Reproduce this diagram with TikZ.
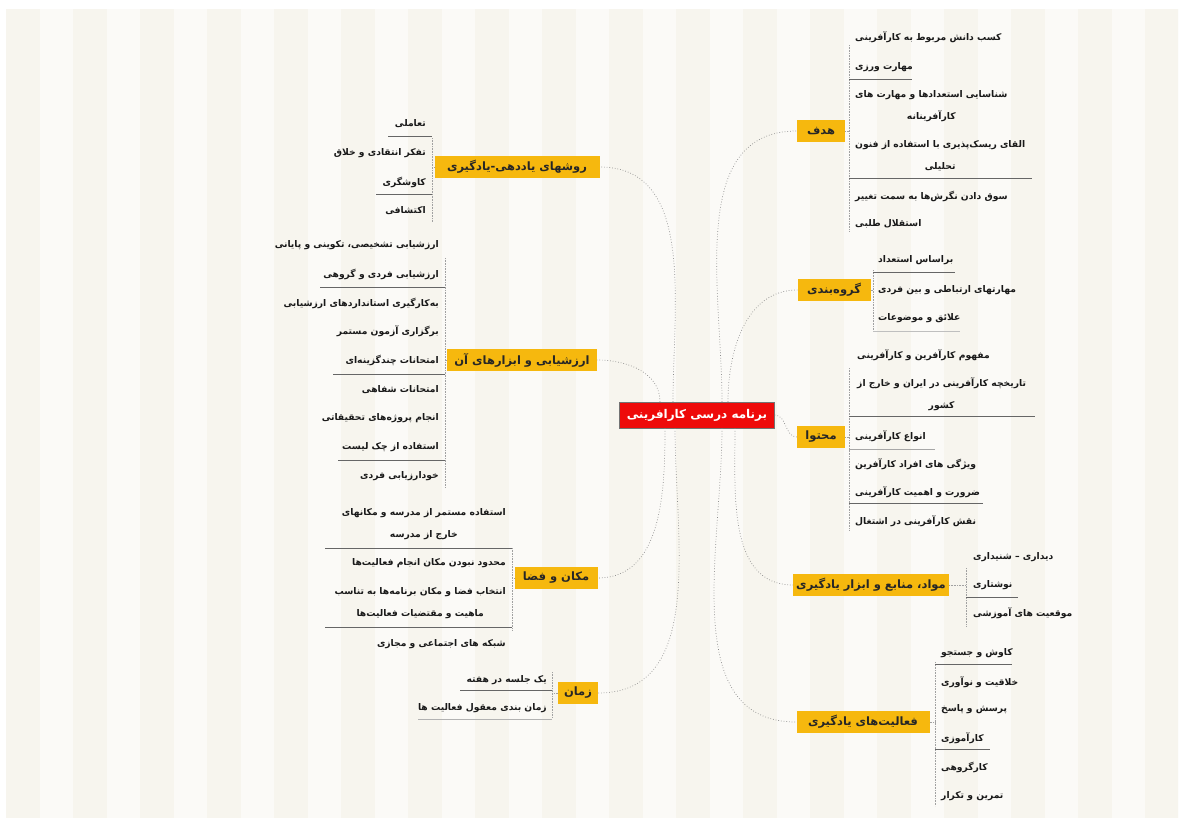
\documentclass[tikz,border=0pt]{standalone}
\usepackage{fontspec}
\TeXXeTstate=1
\newfontfamily\fa[Script=Arabic]{DejaVu Sans}
\definecolor{bgA}{HTML}{F7F5EE}
\definecolor{bgB}{HTML}{FBFAF7}
\definecolor{myyellow}{HTML}{F6B80E}
\definecolor{myred}{HTML}{EE0A0A}
\definecolor{conncol}{HTML}{8A8A8A}
\newcommand\rl[1]{\beginR#1\endR}
\tikzset{
  mainnode/.style={fill=myyellow, text=black!85, font=\fa\bfseries\fontsize{11.5}{14}\selectfont,
    inner xsep=3pt, inner ysep=2pt, minimum height=22pt},
  rootnode/.style={fill=myred, draw=black!55, line width=0.5pt, text=white,
    font=\fa\bfseries\fontsize{12}{14}\selectfont, minimum width=155pt, minimum height=26pt},
  leafR/.style={anchor=west, align=center, inner sep=1pt, text=black!90,
    font=\fa\bfseries\fontsize{9.2}{22}\selectfont},
  leafL/.style={anchor=east, align=center, inner sep=1pt, text=black!90,
    font=\fa\bfseries\fontsize{9.2}{22}\selectfont},
  conn/.style={draw=conncol, dotted, line width=0.7pt},
  brk/.style={draw=conncol!80, densely dotted, line width=0.6pt},
  uline/.style={draw=black!60, line width=0.6pt}
}
\begin{document}
\begin{tikzpicture}[x=1pt,y=-1pt]
\useasboundingbox (0,0) rectangle (1184,822);
\fill[white] (0,0) rectangle (1184,822);
\begin{scope}
\clip (6,9) rectangle (1178,818);
\foreach \i in {0,...,35}{
  \pgfmathsetmacro\xa{6+\i*33.5}
  \ifodd\i \fill[bgB] (\xa,9) rectangle ++(33.6,809);
  \else \fill[bgA] (\xa,9) rectangle ++(33.6,809);\fi
}
\end{scope}

% root
\node[rootnode] (c) at (697,415) {\rl{برنامه درسی کارافرینی}};

% main topics right
\node[mainnode, minimum width=48pt] (h) at (821,131) {\rl{هدف}};
\node[mainnode, minimum width=73pt] (g) at (834,290) {\rl{گروه^^^^200cبندی}};
\node[mainnode, minimum width=48pt] (m) at (821,437) {\rl{محتوا}};
\node[mainnode, minimum width=148pt] (s) at (871,585) {\rl{مواد، منابع و ابزار یادگیری}};
\node[mainnode, minimum width=133pt] (f) at (863,722) {\rl{فعالیت^^^^200cهای یادگیری}};
% main topics left
\node[mainnode, minimum width=165pt] (r) at (517,167) {\rl{روشهای یاددهی-یادگیری}};
\node[mainnode, minimum width=150pt] (e) at (522,360) {\rl{ارزشیابی و ابزارهای آن}};
\node[mainnode, minimum width=83pt] (p) at (556,578) {\rl{مکان و فضا}};
\node[mainnode, minimum width=40pt] (t) at (578,693) {\rl{زمان}};

% connectors root -> topics
\draw[conn] ([xshift=-24pt]c.north) to[out=90,in=0] (r.east);
\draw[conn] ([xshift=-37pt]c.north) to[out=90,in=0] (e.east);
\draw[conn] ([xshift=-32pt]c.south) to[out=-90,in=0] (p.east);
\draw[conn] ([xshift=-22pt]c.south) to[out=-90,in=0] (t.east);
\draw[conn] ([xshift=25pt]c.north) to[out=90,in=180] (h.west);
\draw[conn] ([xshift=31pt]c.north) to[out=90,in=180] (g.west);
\draw[conn] (c.east) to[out=0,in=180] (m.west);
\draw[conn] ([xshift=38pt]c.south) to[out=-90,in=180] (s.west);
\draw[conn] ([xshift=25pt]c.south) to[out=-90,in=180] (f.west);

% ---- هدف
\coordinate (hb) at (849,131);
\draw[brk] (h.east) -- (hb);
\draw[brk] (849,45) -- (849,232);
\node[leafR] (h1) at (854,37) {\rl{کسب دانش مربوط به کارآفرینی}};
\node[leafR] (h2) at (854,67) {\rl{مهارت ورزی}};
\node[leafR] (h3) at (854,106) {\rl{شناسایی استعدادها و مهارت های}\\\rl{کارآفرینانه}};
\node[leafR] (h4) at (854,156) {\rl{القای ریسک^^^^200cپذیری با استفاده از فنون}\\\rl{تحلیلی}};
\node[leafR] (h5) at (854,196) {\rl{سوق دادن نگرش^^^^200cها به سمت تغییر}};
\node[leafR] (h6) at (854,224) {\rl{استقلال طلبی}};
\draw[uline] (849,79) -- (912,79);
\draw[uline] (849,178) -- (1032,178);

% ---- گروه‌بندی
\coordinate (gb) at (873,290);
\draw[brk] (g.east) -- (gb);
\draw[brk] (873,270) -- (873,332);
\node[leafR] (g1) at (877,260) {\rl{براساس استعداد}};
\node[leafR] (g2) at (877,290) {\rl{مهارتهای ارتباطی و بین فردی}};
\node[leafR] (g3) at (877,318) {\rl{علائق و موضوعات}};
\draw[uline] (873,272) -- (955,272);
\draw[uline, draw=black!25] (873,331) -- (960,331);

% ---- محتوا
\coordinate (mb) at (849,437);
\draw[brk] (m.east) -- (mb);
\draw[brk] (849,368) -- (849,530);
\node[leafR] (m1) at (856,355) {\rl{مفهوم کارآفرین و کارآفرینی}};
\node[leafR] (m2) at (856,394) {\rl{تاریخچه کارآفرینی در ایران و خارج از}\\\rl{کشور}};
\node[leafR] (m3) at (854,436) {\rl{انواع کارآفرینی}};
\node[leafR] (m4) at (854,464) {\rl{ویژگی های افراد کارآفرین}};
\node[leafR] (m5) at (854,492) {\rl{ضرورت و اهمیت کارآفرینی}};
\node[leafR] (m6) at (854,521) {\rl{نقش کارآفرینی در اشتغال}};
\draw[uline] (849,416) -- (1035,416);
\draw[uline, draw=black!35] (849,449) -- (935,449);
\draw[uline] (849,503) -- (983,503);

% ---- مواد
\coordinate (sb) at (966,585);
\draw[brk] (s.east) -- (sb);
\draw[brk] (966,568) -- (966,626);
\node[leafR] (s1) at (972,557) {\rl{دیداری – شنیداری}};
\node[leafR] (s2) at (972,585) {\rl{نوشتاری}};
\node[leafR] (s3) at (972,613) {\rl{موقعیت های آموزشی}};
\draw[uline] (966,597) -- (1018,597);

% ---- فعالیت‌ها
\coordinate (fb) at (935,722);
\draw[brk] (f.east) -- (fb);
\draw[brk] (935,662) -- (935,806);
\node[leafR] (f1) at (940,653) {\rl{کاوش و جستجو}};
\node[leafR] (f2) at (940,682) {\rl{خلاقیت و نوآوری}};
\node[leafR] (f3) at (940,709) {\rl{پرسش و پاسخ}};
\node[leafR] (f4) at (940,738) {\rl{کارآموزی}};
\node[leafR] (f5) at (940,767) {\rl{کارگروهی}};
\node[leafR] (f6) at (940,796) {\rl{تمرین و تکرار}};
\draw[uline] (935,664) -- (1012,664);
\draw[uline] (935,749) -- (990,749);

% ---- روشها
\coordinate (rb) at (432,167);
\draw[brk] (r.west) -- (rb);
\draw[brk] (432,138) -- (432,222);
\node[leafL] (r1) at (427,124) {\rl{تعاملی}};
\node[leafL] (r2) at (427,153) {\rl{تفکر انتقادی و خلاق}};
\node[leafL] (r3) at (427,182) {\rl{کاوشگری}};
\node[leafL] (r4) at (427,211) {\rl{اکتشافی}};
\draw[uline] (388,136) -- (432,136);
\draw[uline] (376,194) -- (432,194);

% ---- ارزشیابی
\coordinate (eb) at (445,360);
\draw[brk] (e.west) -- (eb);
\draw[brk] (445,258) -- (445,488);
\node[leafL] (e1) at (440,245) {\rl{ارزشیابی تشخیصی، تکوینی و پایانی}};
\node[leafL] (e2) at (440,274) {\rl{ارزشیابی فردی و گروهی}};
\node[leafL] (e3) at (440,303) {\rl{به^^^^200cکارگیری استانداردهای ارزشیابی}};
\node[leafL] (e4) at (440,331) {\rl{برگزاری آزمون مستمر}};
\node[leafL] (e5) at (440,360) {\rl{امتحانات چندگزینه^^^^200cای}};
\node[leafL] (e6) at (440,390) {\rl{امتحانات شفاهی}};
\node[leafL] (e7) at (440,418) {\rl{انجام پروژه^^^^200cهای تحقیقاتی}};
\node[leafL] (e8) at (440,447) {\rl{استفاده از چک لیست}};
\node[leafL] (e9) at (440,476) {\rl{خودارزیابی فردی}};
\draw[uline] (320,287) -- (445,287);
\draw[uline] (333,374) -- (445,374);
\draw[uline] (338,460) -- (445,460);

% ---- مکان و فضا
\coordinate (pb) at (512,578);
\draw[brk] (p.west) -- (pb);
\draw[brk] (512,548) -- (512,630);
\node[leafL] (p1) at (507,524) {\rl{استفاده مستمر از مدرسه و مکانهای}\\\rl{خارج از مدرسه}};
\node[leafL] (p2) at (507,563) {\rl{محدود نبودن مکان انجام فعالیت^^^^200cها}};
\node[leafL] (p3) at (507,603) {\rl{انتخاب فضا و مکان برنامه^^^^200cها به تناسب}\\\rl{ماهیت و مقتضیات فعالیت^^^^200cها}};
\node[leafL] (p4) at (507,644) {\rl{شبکه های اجتماعی و مجازی}};
\draw[uline] (325,548) -- (512,548);
\draw[uline] (325,627) -- (512,627);

% ---- زمان
\coordinate (tb) at (552,693);
\draw[brk] (t.west) -- (tb);
\draw[brk] (552,672) -- (552,718);
\node[leafL] (t1) at (548,680) {\rl{یک جلسه در هفته}};
\node[leafL] (t2) at (548,708) {\rl{زمان بندی معقول فعالیت ها}};
\draw[uline] (460,690) -- (552,690);
\draw[uline, draw=black!30] (418,719) -- (552,719);
\end{tikzpicture}
\end{document}
